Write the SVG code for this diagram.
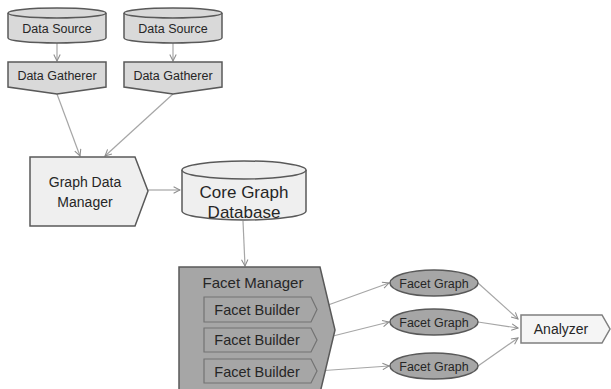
<svg xmlns="http://www.w3.org/2000/svg" width="611" height="389" viewBox="0 0 611 389">
<defs>
<marker id="arr" viewBox="0 0 10 10" refX="9" refY="5" markerWidth="8" markerHeight="8" markerUnits="userSpaceOnUse" orient="auto">
<path d="M1,1 L9,5 L1,9" fill="none" stroke="#8c8c8c" stroke-width="1.3"/>
</marker>
<style>
text{font-family:"Liberation Sans",Arial,sans-serif;fill:#262626;text-anchor:middle}
.ds{fill:#d9d9d9;stroke:#595959;stroke-width:1.5}
.gr{fill:#d9d9d9;stroke:#595959;stroke-width:1.5}
.lt{fill:#efefef;stroke:#595959;stroke-width:1.5}
.dk{fill:#a6a6a6;stroke:#595959;stroke-width:1.5}
.fb{fill:#a6a6a6;stroke:#737373;stroke-width:1.2}
.con{stroke:#a6a6a6;stroke-width:1.2;fill:none;marker-end:url(#arr)}
</style>
</defs>
<rect width="611" height="389" fill="#ffffff"/>
<g id="connectors">
<line class="con" x1="57" y1="43" x2="57" y2="61"/>
<line class="con" x1="173" y1="43" x2="173" y2="61"/>
<line class="con" x1="57" y1="94" x2="80" y2="156"/>
<line class="con" x1="173" y1="94" x2="105" y2="156"/>
<line class="con" x1="148" y1="190" x2="180" y2="190"/>
<line class="con" x1="243" y1="221" x2="245" y2="266"/>
<line class="con" x1="317" y1="309" x2="389" y2="283"/>
<line class="con" x1="317" y1="340" x2="389" y2="322"/>
<line class="con" x1="317" y1="371" x2="389" y2="366"/>
<line class="con" x1="478" y1="283" x2="518" y2="319"/>
<line class="con" x1="478" y1="322" x2="518" y2="328"/>
<line class="con" x1="478" y1="366" x2="518" y2="338"/>
</g>
<g id="ds1">
<path class="ds" d="M8,13 L8,38 A49,5 0 0 0 106,38 L106,13"/>
<ellipse class="ds" cx="57" cy="13" rx="49" ry="5"/>
<text x="57" y="33" font-size="12.5">Data Source</text>
</g>
<g id="ds2">
<path class="ds" d="M124,13 L124,38 A49,5 0 0 0 222,38 L222,13"/>
<ellipse class="ds" cx="173" cy="13" rx="49" ry="5"/>
<text x="173" y="33" font-size="12.5">Data Source</text>
</g>
<g id="dg1">
<path class="gr" d="M8,62 L106,62 L106,87 L57,94 L8,87 Z"/>
<text x="57" y="80" font-size="12.5">Data Gatherer</text>
</g>
<g id="dg2">
<path class="gr" d="M124,62 L222,62 L222,87 L173,94 L124,87 Z"/>
<text x="173" y="80" font-size="12.5">Data Gatherer</text>
</g>
<g id="gdm">
<path class="lt" d="M30,157 L135,157 L148,191 L135,226 L30,226 Z"/>
<text x="85" y="187" font-size="14">Graph Data</text>
<text x="85" y="207" font-size="14">Manager</text>
</g>
<g id="cgdb">
<path class="lt" d="M182,170 L182,211 A62,9 0 0 0 306,211 L306,170"/>
<ellipse class="lt" cx="244" cy="170" rx="62" ry="9"/>
<text x="244" y="198" font-size="17">Core Graph</text>
<text x="244" y="218" font-size="17">Database</text>
</g>
<g id="fm">
<path class="dk" d="M179,267 L320,267 L335,330 L320,393 L179,393 Z"/>
<text x="253" y="288" font-size="15">Facet Manager</text>
</g>
<g id="fb1">
<path class="fb" d="M204,297 L311,297 L317,309.5 L311,322 L204,322 Z"/>
<text x="257" y="315" font-size="14.5">Facet Builder</text>
</g>
<g id="fb2">
<path class="fb" d="M204,328 L311,328 L317,340 L311,352 L204,352 Z"/>
<text x="257" y="345" font-size="14.5">Facet Builder</text>
</g>
<g id="fb3">
<path class="fb" d="M204,359 L311,359 L317,371 L311,383 L204,383 Z"/>
<text x="257" y="377" font-size="14.5">Facet Builder</text>
</g>
<g id="fg1">
<ellipse class="dk" cx="434" cy="283" rx="44" ry="13"/>
<text x="434" y="287.5" font-size="12.5">Facet Graph</text>
</g>
<g id="fg2">
<ellipse class="dk" cx="434" cy="322" rx="44" ry="13"/>
<text x="434" y="326.5" font-size="12.5">Facet Graph</text>
</g>
<g id="fg3">
<ellipse class="dk" cx="434" cy="366" rx="44" ry="13"/>
<text x="434" y="370.5" font-size="12.5">Facet Graph</text>
</g>
<g id="analyzer">
<path class="lt" d="M521,315 L602,315 L610,329 L602,343 L521,343 Z" style="fill:#f5f5f5;stroke:#7f7f7f"/>
<text x="561" y="334" font-size="14">Analyzer</text>
</g>
</svg>
